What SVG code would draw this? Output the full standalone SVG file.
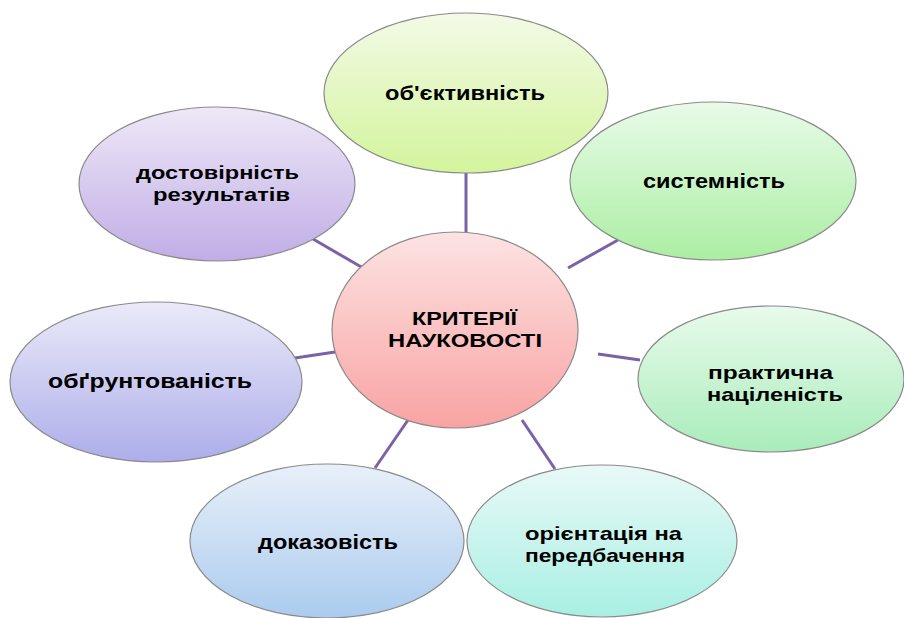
<svg xmlns="http://www.w3.org/2000/svg" width="904" height="618" viewBox="0 0 904 618">
<defs>
<linearGradient id="gTop" x1="0" y1="0" x2="0" y2="1"><stop offset="0" stop-color="#f3fae6"/><stop offset="1" stop-color="#d3f49c"/></linearGradient>
<linearGradient id="gCen" x1="0" y1="0" x2="0" y2="1"><stop offset="0" stop-color="#fde3e3"/><stop offset="1" stop-color="#f9a3a3"/></linearGradient>
<linearGradient id="gSys" x1="0" y1="0" x2="0" y2="1"><stop offset="0" stop-color="#e8fbe8"/><stop offset="1" stop-color="#abeea3"/></linearGradient>
<linearGradient id="gPr" x1="0" y1="0" x2="0" y2="1"><stop offset="0" stop-color="#e8fbec"/><stop offset="1" stop-color="#a9ecba"/></linearGradient>
<linearGradient id="gOr" x1="0" y1="0" x2="0" y2="1"><stop offset="0" stop-color="#e8f9f7"/><stop offset="1" stop-color="#a9efe3"/></linearGradient>
<linearGradient id="gDk" x1="0" y1="0" x2="0" y2="1"><stop offset="0" stop-color="#e8f0f9"/><stop offset="1" stop-color="#abcbee"/></linearGradient>
<linearGradient id="gOb" x1="0" y1="0" x2="0" y2="1"><stop offset="0" stop-color="#eaeaf9"/><stop offset="1" stop-color="#adadea"/></linearGradient>
<linearGradient id="gDs" x1="0" y1="0" x2="0" y2="1"><stop offset="0" stop-color="#eee8f7"/><stop offset="1" stop-color="#c0ade6"/></linearGradient>
</defs>
<style>
.n{stroke:#8a8a8a;stroke-width:1.2}
.t{font-family:"Liberation Sans",Arial,sans-serif;font-weight:bold;font-size:21px;fill:#000;text-anchor:middle}
.m{font-size:19px}
.tc{font-size:19px}
.c line{stroke:#7b61a8;stroke-width:3}
</style>
<rect width="904" height="618" fill="#fff"/>
<g class="c" id="connectors">
<line x1="466" y1="172" x2="466" y2="233"/>
<line x1="313" y1="239" x2="363" y2="268"/>
<line x1="568" y1="268" x2="618" y2="240"/>
<line x1="295" y1="358" x2="335" y2="352"/>
<line x1="598" y1="354" x2="640" y2="360"/>
<line x1="408" y1="420" x2="375" y2="468"/>
<line x1="522" y1="420" x2="555" y2="469"/>
</g>
<g id="n-obj"><ellipse class="n" cx="466" cy="93" rx="142" ry="80" fill="url(#gTop)"/><text class="t" x="465" y="100" textLength="160" lengthAdjust="spacingAndGlyphs">об'єктивність</text></g>
<g id="n-dost"><ellipse class="n" cx="217" cy="184" rx="138" ry="77" fill="url(#gDs)"/><text class="t m" x="217.5" y="178.5" textLength="163" lengthAdjust="spacingAndGlyphs">достовірність</text><text class="t m" x="221.5" y="200.5" textLength="137" lengthAdjust="spacingAndGlyphs">результатів</text></g>
<g id="n-sys"><ellipse class="n" cx="713" cy="181" rx="143" ry="79" fill="url(#gSys)"/><text class="t" x="714" y="188" textLength="142" lengthAdjust="spacingAndGlyphs">системність</text></g>
<g id="n-center"><ellipse class="n" cx="455" cy="330" rx="123" ry="98" fill="url(#gCen)"/><text class="t tc" x="464.5" y="325" textLength="105" lengthAdjust="spacingAndGlyphs">КРИТЕРІЇ</text><text class="t tc" x="465" y="347" textLength="154" lengthAdjust="spacingAndGlyphs">НАУКОВОСТІ</text></g>
<g id="n-obg"><ellipse class="n" cx="156" cy="382" rx="146" ry="80" fill="url(#gOb)"/><text class="t" x="150" y="388" textLength="204" lengthAdjust="spacingAndGlyphs">обґрунтованість</text></g>
<g id="n-prak"><ellipse class="n" cx="771" cy="379" rx="133" ry="73" fill="url(#gPr)"/><text class="t m" x="770.5" y="379" textLength="125" lengthAdjust="spacingAndGlyphs">практична</text><text class="t m" x="775" y="401" textLength="136" lengthAdjust="spacingAndGlyphs">націленість</text></g>
<g id="n-dok"><ellipse class="n" cx="327" cy="541" rx="137" ry="77" fill="url(#gDk)"/><text class="t" x="328" y="549" textLength="140" lengthAdjust="spacingAndGlyphs">доказовість</text></g>
<g id="n-or"><ellipse class="n" cx="602" cy="541" rx="135" ry="76" fill="url(#gOr)"/><text class="t m" x="603.5" y="539.5" textLength="157" lengthAdjust="spacingAndGlyphs">орієнтація  на</text><text class="t m" x="605" y="561.5" textLength="160" lengthAdjust="spacingAndGlyphs">передбачення</text></g>
</svg>
